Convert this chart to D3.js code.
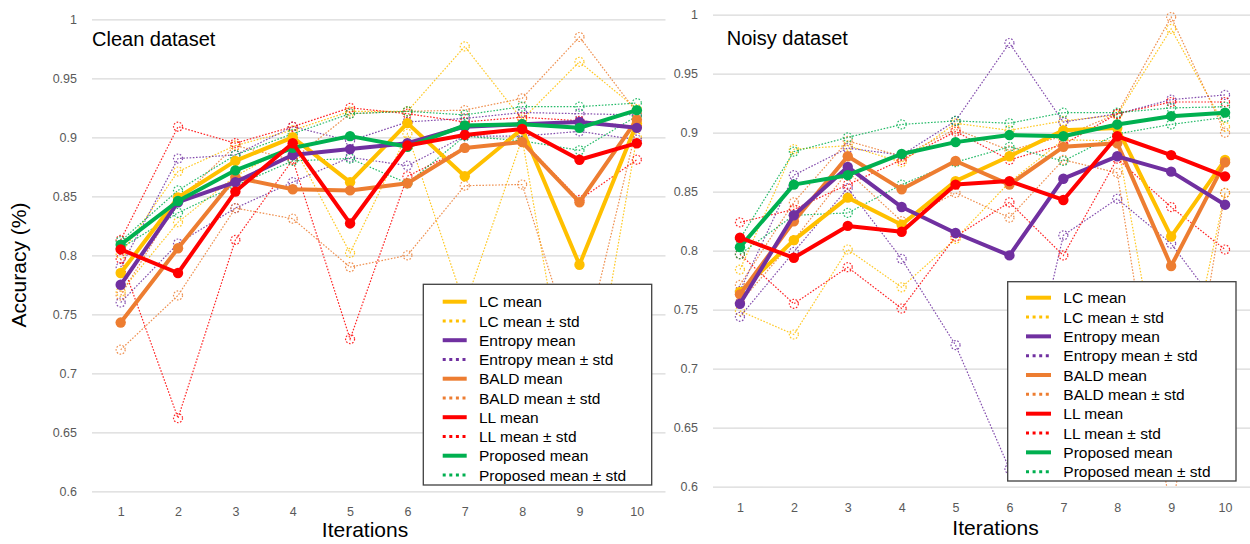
<!DOCTYPE html>
<html><head><meta charset="utf-8">
<script src="https://cdn.jsdelivr.net/npm/d3@7"></script>
<style>
body{margin:0;background:#fff;}
svg{display:block;font-family:"Liberation Sans",Arial,sans-serif;}
</style>
</head><body>
<svg id="chart" width="1250" height="544"></svg>
<script>
// ---------- data ----------
const iterations = [1, 2, 3, 4, 5, 6, 7, 8, 9, 10];
const xTickLabels = ["1", "2", "3", "4", "5", "6", "7", "8", "9", "10"];
const yTickValues = [0.6, 0.65, 0.7, 0.75, 0.8, 0.85, 0.9, 0.95, 1];
const methods = ["LC", "Entropy", "BALD", "LL", "Proposed"];
const legendLabels = ["LC mean", "LC mean ± std", "Entropy mean", "Entropy mean ± std",
  "BALD mean", "BALD mean ± std", "LL mean", "LL mean ± std", "Proposed mean", "Proposed mean ± std"];
const panelTitles = ["Clean dataset", "Noisy dataset"];

// Clean dataset
const cleanLCMean       = [0.785, 0.849, 0.880, 0.900, 0.862, 0.912, 0.867, 0.907, 0.792, 0.912];
const cleanLCUpper      = [0.801, 0.871, 0.893, 0.906, 0.922, 0.922, 0.977, 0.915, 0.964, 0.924];
const cleanLCLower      = [0.769, 0.828, 0.867, 0.894, 0.802, 0.903, 0.757, 0.899, 0.620, 0.900];
const cleanEntropyMean  = [0.775, 0.845, 0.862, 0.885, 0.890, 0.895, 0.909, 0.911, 0.913, 0.908];
const cleanEntropyUpper = [0.790, 0.882, 0.885, 0.909, 0.897, 0.913, 0.916, 0.921, 0.920, 0.919];
const cleanEntropyLower = [0.760, 0.810, 0.840, 0.862, 0.883, 0.876, 0.901, 0.901, 0.905, 0.898];
const cleanBALDMean     = [0.743, 0.806, 0.866, 0.856, 0.855, 0.861, 0.891, 0.896, 0.845, 0.915];
const cleanBALDUpper    = [0.766, 0.846, 0.893, 0.881, 0.920, 0.922, 0.923, 0.933, 0.985, 0.921];
const cleanBALDLower    = [0.720, 0.766, 0.840, 0.831, 0.790, 0.800, 0.859, 0.860, 0.705, 0.909];
const cleanLLMean       = [0.805, 0.785, 0.854, 0.895, 0.827, 0.893, 0.902, 0.907, 0.881, 0.895];
const cleanLLUpper      = [0.813, 0.909, 0.895, 0.909, 0.925, 0.920, 0.913, 0.917, 0.914, 0.909];
const cleanLLLower      = [0.797, 0.662, 0.813, 0.881, 0.729, 0.867, 0.891, 0.897, 0.847, 0.881];
const cleanPropMean     = [0.809, 0.846, 0.872, 0.891, 0.901, 0.892, 0.910, 0.911, 0.908, 0.923];
const cleanPropUpper    = [0.812, 0.855, 0.885, 0.903, 0.920, 0.922, 0.919, 0.926, 0.926, 0.929];
const cleanPropLower    = [0.806, 0.836, 0.859, 0.880, 0.882, 0.861, 0.901, 0.897, 0.889, 0.918];

// Noisy dataset
const noisyLCMean       = [0.765, 0.809, 0.845, 0.822, 0.859, 0.880, 0.902, 0.904, 0.812, 0.877];
const noisyLCUpper      = [0.784, 0.886, 0.889, 0.875, 0.908, 0.902, 0.910, 0.915, 0.988, 0.905];
const noisyLCLower      = [0.749, 0.729, 0.801, 0.769, 0.810, 0.858, 0.894, 0.893, 0.636, 0.849];
const noisyEntropyMean  = [0.755, 0.830, 0.871, 0.837, 0.815, 0.796, 0.861, 0.880, 0.867, 0.839];
const noisyEntropyUpper = [0.766, 0.864, 0.887, 0.881, 0.910, 0.976, 0.909, 0.916, 0.928, 0.932];
const noisyEntropyLower = [0.744, 0.799, 0.853, 0.793, 0.720, 0.615, 0.813, 0.844, 0.806, 0.745];
const noisyBALDMean     = [0.763, 0.825, 0.880, 0.852, 0.876, 0.856, 0.888, 0.891, 0.787, 0.875];
const noisyBALDUpper    = [0.771, 0.841, 0.893, 0.880, 0.903, 0.885, 0.897, 0.916, 0.998, 0.900];
const noisyBALDLower    = [0.756, 0.809, 0.867, 0.825, 0.849, 0.828, 0.877, 0.866, 0.576, 0.849];
const noisyLLMean       = [0.811, 0.794, 0.821, 0.816, 0.856, 0.859, 0.843, 0.897, 0.881, 0.863];
const noisyLLUpper      = [0.824, 0.835, 0.856, 0.877, 0.901, 0.877, 0.890, 0.916, 0.926, 0.926];
const noisyLLLower      = [0.797, 0.755, 0.786, 0.751, 0.812, 0.841, 0.796, 0.878, 0.837, 0.801];
const noisyPropMean     = [0.803, 0.856, 0.864, 0.882, 0.892, 0.898, 0.897, 0.907, 0.914, 0.917];
const noisyPropUpper    = [0.810, 0.884, 0.896, 0.907, 0.910, 0.908, 0.917, 0.917, 0.921, 0.922];
const noisyPropLower    = [0.797, 0.830, 0.832, 0.856, 0.875, 0.888, 0.876, 0.899, 0.907, 0.913];

// ---------- assemble ----------
const cleanSeries = {
  LC: [cleanLCMean, cleanLCUpper, cleanLCLower],
  Entropy: [cleanEntropyMean, cleanEntropyUpper, cleanEntropyLower],
  BALD: [cleanBALDMean, cleanBALDUpper, cleanBALDLower],
  LL: [cleanLLMean, cleanLLUpper, cleanLLLower],
  Proposed: [cleanPropMean, cleanPropUpper, cleanPropLower]
};
const noisySeries = {
  LC: [noisyLCMean, noisyLCUpper, noisyLCLower],
  Entropy: [noisyEntropyMean, noisyEntropyUpper, noisyEntropyLower],
  BALD: [noisyBALDMean, noisyBALDUpper, noisyBALDLower],
  LL: [noisyLLMean, noisyLLUpper, noisyLLLower],
  Proposed: [noisyPropMean, noisyPropUpper, noisyPropLower]
};

const colors = {LC: "#FFC000", Entropy: "#7030A0", BALD: "#ED7D31", LL: "#FF0000", Proposed: "#00B050"};
const meanDrawOrder = ["LC", "BALD", "Entropy", "Proposed", "LL"];

const svg = d3.select("#chart");

function drawPanel(cfg, series, title, idx) {
  const g = svg.append("g");
  const x = d3.scaleLinear().domain([0.5, 10.5]).range([cfg.left, cfg.right]);
  const y = d3.scaleLinear().domain([0.6, 1]).range([cfg.bottom, cfg.top]);

  // gridlines + y labels
  const yAxis = d3.axisLeft(y).tickValues(yTickValues)
    .tickSize(-(cfg.right - cfg.left)).tickPadding(15)
    .tickFormat(d => String(+d.toFixed(2)));
  const ga = g.append("g").attr("transform", `translate(${cfg.left},0)`).call(yAxis);
  ga.select(".domain").remove();
  ga.selectAll(".tick line").attr("stroke", "#d9d9d9").attr("stroke-width", 1.3);
  ga.selectAll(".tick text").attr("fill", "#595959").attr("font-size", 12.5)
    .attr("font-family", "Liberation Sans, Arial, sans-serif");

  // x labels
  const xAxis = d3.axisBottom(x).tickValues(iterations).tickSize(0).tickPadding(16)
    .tickFormat((d, i) => xTickLabels[i]);
  const gx = g.append("g").attr("transform", `translate(0,${cfg.bottom})`).call(xAxis);
  gx.select(".domain").remove();
  gx.selectAll(".tick text").attr("fill", "#595959").attr("font-size", 12.5)
    .attr("font-family", "Liberation Sans, Arial, sans-serif");

  // clip
  const clipId = "clip" + idx;
  g.append("clipPath").attr("id", clipId).append("rect")
    .attr("x", cfg.left).attr("y", cfg.top - 12)
    .attr("width", cfg.right - cfg.left).attr("height", cfg.bottom - cfg.top + 12);
  const plot = g.append("g").attr("clip-path", `url(#${clipId})`);

  const line = d3.line().x((d, i) => x(iterations[i])).y(d => y(d));

  // std series (dotted)
  methods.forEach(m => {
    [series[m][1], series[m][2]].forEach(arr => {
      const sg = plot.append("g").attr("opacity", 0.85);
      sg.append("path").datum(arr).attr("d", line)
        .attr("fill", "none").attr("stroke", colors[m]).attr("stroke-width", 1.2)
        .attr("stroke-dasharray", "1.6,1.6");
      sg.selectAll("circle").data(arr).join("circle")
        .attr("cx", (d, i) => x(iterations[i])).attr("cy", d => y(d)).attr("r", 4.5)
        .attr("fill", "none").attr("stroke", colors[m]).attr("stroke-width", 1.2)
        .attr("stroke-dasharray", "1.6,1.6");
    });
  });
  // mean series (solid)
  meanDrawOrder.forEach(m => {
    const arr = series[m][0];
    plot.append("path").datum(arr).attr("d", line)
      .attr("fill", "none").attr("stroke", colors[m]).attr("stroke-width", 4)
      .attr("stroke-linejoin", "round");
    plot.append("g").selectAll("circle").data(arr).join("circle")
      .attr("cx", (d, i) => x(iterations[i])).attr("cy", d => y(d)).attr("r", 5.2)
      .attr("fill", colors[m]);
  });

  // title
  g.append("text").attr("x", cfg.titleX).attr("y", cfg.titleY)
    .attr("font-size", 20).attr("fill", "#000").text(title);
  // x axis title
  g.append("text").attr("x", cfg.xTitleX).attr("y", cfg.xTitleY)
    .attr("text-anchor", "middle").attr("font-size", 21).attr("fill", "#000").text("Iterations");

  // legend
  const lg = g.append("g");
  lg.append("rect").attr("x", cfg.legX).attr("y", cfg.legY)
    .attr("width", cfg.legW).attr("height", cfg.legH)
    .attr("fill", "#fff").attr("stroke", "#404040").attr("stroke-width", 1.3);
  legendLabels.forEach((lab, i) => {
    const m = methods[Math.floor(i / 2)];
    const dotted = i % 2 === 1;
    const ry = cfg.legRow0 + i * cfg.legStep;
    lg.append("line").attr("x1", cfg.legS0).attr("x2", cfg.legS1)
      .attr("y1", ry).attr("y2", ry)
      .attr("stroke", colors[m]).attr("stroke-width", dotted ? 3 : 4)
      .attr("stroke-dasharray", dotted ? "3,3.6" : null);
    lg.append("text").attr("x", cfg.legT).attr("y", ry).attr("dy", "0.36em")
      .attr("font-size", 15.5).attr("fill", "#000").text(lab);
  });
}

drawPanel({left: 92, right: 665.5, top: 19.3, bottom: 491.3,
  titleX: 92, titleY: 45.5, xTitleX: 365, xTitleY: 537,
  legX: 423.3, legY: 284.3, legW: 228.4, legH: 200.7,
  legS0: 442.7, legS1: 466.7, legT: 479, legRow0: 301.7, legStep: 19.25}, cleanSeries, panelTitles[0], 0);

drawPanel({left: 713, right: 1252, top: 14.7, bottom: 486.7,
  titleX: 726.7, titleY: 45, xTitleX: 995.5, xTitleY: 535,
  legX: 1007.7, legY: 281.7, legW: 228.3, legH: 199.3,
  legS0: 1026, legS1: 1051, legT: 1063.3, legRow0: 297.7, legStep: 19.33}, noisySeries, panelTitles[1], 1);

// y axis title
svg.append("text").attr("transform", "translate(26,265) rotate(-90)")
  .attr("text-anchor", "middle").attr("font-size", 21).attr("fill", "#000").text("Accuracy (%)");
</script>
</body></html>
